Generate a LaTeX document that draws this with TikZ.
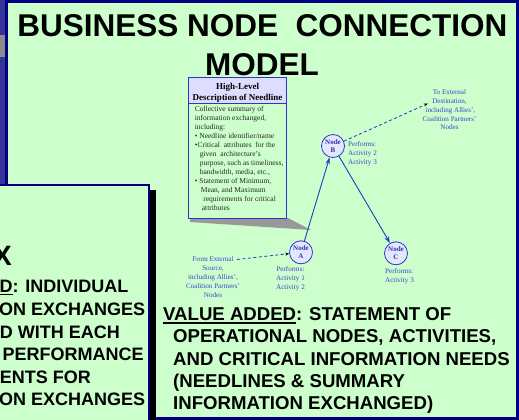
\documentclass[tikz,border=0pt]{standalone}
\usepackage{fontspec}
\setmainfont{Liberation Serif}
\setsansfont{Liberation Sans}
\usetikzlibrary{arrows.meta}
\definecolor{bggreen}{HTML}{CCFFCC}
\definecolor{navyc}{HTML}{000080}
\definecolor{purplebg}{HTML}{333399}
\definecolor{greymark}{HTML}{8C8C8C}
\definecolor{wedgegrey}{HTML}{999999}
\definecolor{boxblue}{HTML}{3333CC}
\definecolor{hdrfill}{HTML}{DDDDFF}
\definecolor{lineblue}{HTML}{1A3FC0}
\definecolor{lblblue}{HTML}{4040CC}
\definecolor{circfill}{HTML}{E4E8FF}
\definecolor{nodetxt}{HTML}{3333AA}
\newcommand\ulbox[1]{\setbox0\hbox{#1}\rlap{\rule[-3.4pt]{\wd0}{1.5pt}}\box0}
\tikzset{
  titletxt/.style={font=\fontsize{31.5}{38}\selectfont\sffamily\bfseries, inner sep=0, anchor=base},
  bigtxt/.style={font=\fontsize{18.6}{22}\selectfont\sffamily\bfseries, inner sep=0, anchor=base west},
  lefttxt/.style={font=\fontsize{18}{22}\selectfont\sffamily\bfseries, inner sep=0, anchor=base west},
  lbl/.style={font=\fontsize{7.1}{8.9}\selectfont, text=lblblue, inner sep=0},
  nodecirc/.style={circle, draw=boxblue, fill=circfill, line width=0.8pt, minimum size=23pt, inner sep=0,
    font=\fontsize{7}{7.6}\selectfont\bfseries, text=nodetxt, align=center},
  solidarrow/.style={draw=lineblue, line width=0.9pt, -{Stealth[length=7pt,width=4.5pt]}},
  dasharrow/.style={draw=lineblue, line width=0.8pt, dash pattern=on 3pt off 2.5pt, -{Stealth[length=4pt,width=3pt,black]}},
}
\begin{document}
\begin{tikzpicture}[x=1pt,y=-1pt]
\useasboundingbox (0,0) rectangle (519,420);
% background panels
\fill[purplebg] (0,0) rectangle (519,420);
\fill[greymark] (0,35) rectangle (5,57);
\draw[navyc, line width=2.6pt, fill=bggreen] (6.5,1.5) rectangle (517.5,418.5);
% title
\node[titletxt] (t1) at (262.5,37) {BUSINESS NODE\ \ CONNECTION};
\node[titletxt] (t2) at (262,75) {MODEL};
% description box
\fill[wedgegrey] (190,218) -- (288,218) -- (311,230) -- (190,222) -- cycle;
\draw[boxblue, line width=0.8pt, fill=bggreen] (188.3,77.5) rectangle (286.7,218.3);
\draw[boxblue, line width=0.8pt, fill=hdrfill] (188.3,77.5) rectangle (286.7,103.3);
\node[font=\fontsize{9}{11.5}\selectfont\bfseries, align=center, anchor=north, inner sep=0] (hdrtxt) at (237.5,83)
  {High-Level\\Description of Needline};
\node[font=\fontsize{7.5}{9}\selectfont, align=left, anchor=north west, inner sep=0, text=black!85] (bodytxt) at (194.7,106.5)
  {Collective summary of\\
   information exchanged,\\
   including:\\
   • Needline identifier/name\\
   •Critical\ \ attributes\ \ for the\\
   \hspace*{5pt}given\ \ architecture’s\\
   \hspace*{5pt}purpose, such as timeliness,\\
   \hspace*{5pt}bandwidth, media, etc.,\\
   • Statement of Minimum,\\
   \hspace*{6pt}Mean, and Maximum\\
   \hspace*{8.5pt}requirements for critical\\
   \hspace*{7pt}attributes};
% operational nodes
\node[nodecirc] (A) at (301,252.3) {Node\\A};
\node[nodecirc] (B) at (333,146) {Node\\B};
\node[nodecirc] (C) at (396,253.3) {Node\\C};
\coordinate (toext) at (428,103.5);
\coordinate (fromext) at (237,259.5);
\draw[solidarrow] (A) -- (B);
\draw[solidarrow] (B) -- (C);
\draw[dasharrow] (B) -- (toext);
\draw[dasharrow] (fromext) -- (A);
% labels
\node[lbl, align=center, anchor=north] (toextlbl) at (449.5,89.2)
  {To External\\Destination,\\\ including Allies’,\\Coalition Partners’\\Nodes};
\node[lbl, align=center, anchor=north] (fromextlbl) at (213,256.6)
  {From External\\Source,\\including Allies’,\\Coalition Partners’\\Nodes};
\node[lbl, align=left, anchor=north west] (bperf) at (348,141.7) {Performs:\\Activity 2\\Activity 3};
\node[lbl, align=center, anchor=north] (aperf) at (290.5,266.6) {Performs:\\Activity 1\\Activity 2};
\node[lbl, align=left, anchor=north west] (cperf) at (385,268.7) {Performs:\\Activity 3};
% bottom value-added text
\node[bigtxt] (v1) at (163,320.5) {\ulbox{VALUE ADDED}: STATEMENT OF};
\node[bigtxt] (v2) at (173,342.7) {OPERATIONAL NODES, ACTIVITIES,};
\node[bigtxt] (v3) at (173,365.3) {AND CRITICAL INFORMATION NEEDS};
\node[bigtxt] (v4) at (173,387.7) {(NEEDLINES \& SUMMARY};
\node[bigtxt] (v5) at (173,409.5) {INFORMATION EXCHANGED)};
% front-left panel
\fill[black] (0,190) rectangle (155.5,425);
\draw[navyc, line width=2pt, fill=bggreen] (-5,185) rectangle (149,426);
\node[font=\fontsize{28}{30}\selectfont\sffamily\bfseries, inner sep=0, anchor=base west] (lx) at (-7,265) {X};
\node[lefttxt] (l1) at (-0.5,292) {\ulbox{D}: INDIVIDUAL};
\node[lefttxt] (l2) at (-1,315.5) {ON EXCHANGES};
\node[lefttxt] (l3) at (-0.3,338) {D WITH EACH};
\node[lefttxt] (l4) at (2.5,360.5) {PERFORMANCE};
\node[lefttxt] (l5) at (-0.3,383) {ENTS FOR};
\node[lefttxt] (l6) at (-1,405) {ON EXCHANGES};
\end{tikzpicture}
\end{document}
